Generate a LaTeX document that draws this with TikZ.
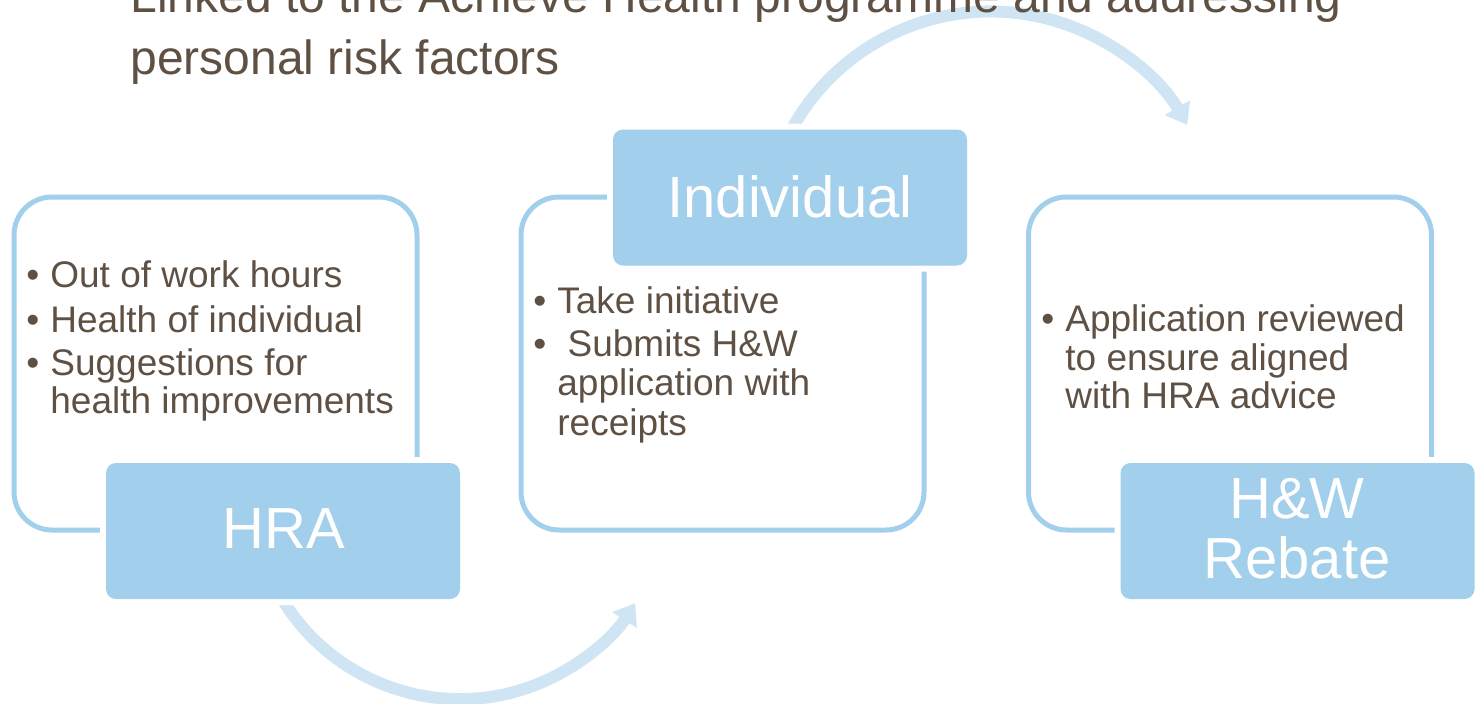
\documentclass[tikz,border=0pt]{standalone}
\usepackage{fontspec}
\setmainfont{Liberation Sans}
\usetikzlibrary{arrows.meta}
\definecolor{boxblue}{HTML}{A2CFEB}
\definecolor{flowblue}{HTML}{CFE5F3}
\definecolor{inkbrown}{HTML}{5F5044}
% bullet hung to the left of the text start
\newcommand{\bul}{\llap{\textbullet\hspace{5.5pt}}}
\begin{document}
\begin{tikzpicture}[x=0.5pt,y=-0.5pt,
  outlinebox/.style={draw=boxblue,line width=2.5pt,rounded corners=19pt,
    minimum width=201.5pt,minimum height=166.5pt,inner sep=0pt},
  tabbox/.style={fill=boxblue,rounded corners=5pt,minimum width=177pt,
    minimum height=68pt,inner sep=0pt,preaction={draw=white,line width=6pt}},
  headline/.style={inner sep=0pt,anchor=base west,text=inkbrown,
    font=\fontsize{24}{28}\selectfont},
  item/.style={inner sep=0pt,anchor=base west,text=inkbrown,
    font=\fontsize{18.5}{22}\selectfont},
  tablabel/.style={inner sep=0pt,anchor=base,text=white,
    font=\fontsize{29}{34}\selectfont},
  flow/.style={draw=flowblue,line width=6pt,
    -{Triangle[width=14pt,length=10pt]}}]
\useasboundingbox (0,0) rectangle (1480,703);

% outlined content boxes
\node[outlinebox] (frameA) at (215.5,363.5) {};
\node[outlinebox] (frameB) at (722.5,363.5) {};
\node[outlinebox] (frameC) at (1230,363.5) {};

% circular flow arrows
\coordinate (pivotA) at (460,491.1);
\coordinate (pivotB) at (990.7,238.5);
\draw[flow] (pivotA) ++(155:208) arc[start angle=155,end angle=32.6,radius=208];
\draw[flow] (pivotB) ++(200:227) arc[start angle=200,end angle=330,radius=227];

% filled tabs
\node[tabbox] (tabA) at (283,531) {};
\node[tabbox] (tabB) at (790,197.5) {};
\node[tabbox] (tabC) at (1297.5,531) {};
\node[tablabel] (labA) at (284,548) {HRA};
\node[tablabel] (labB) at (790,217) {Individual};
\node[tablabel] (labC1) at (1297,518) {H\&W};
\node[tablabel] (labC2) at (1297,578) {Rebate};

% heading
\node[headline] (head1) at (130,12) {Linked to the Achieve Health programme and addressing};
\node[headline] (head2) at (130,74) {personal risk factors};

% box texts
\node[item] (a1) at (50,287) {\bul Out of work hours};
\node[item] (a2) at (50,332) {\bul Health of individual};
\node[item] (a3) at (50,375) {\bul Suggestions for};
\node[item] (a4) at (50,413) {health improvements};

\node[item] (b1) at (557,313) {\bul Take initiative};
\node[item] (b2) at (557,356) {\bul\ Submits H\&W};
\node[item] (b3) at (557,395) {application with};
\node[item] (b4) at (557,435) {receipts};

\node[item] (c1) at (1065,331) {\bul Application reviewed};
\node[item] (c2) at (1065,370) {to ensure aligned};
\node[item] (c3) at (1065,408) {with HRA advice};
\end{tikzpicture}
\end{document}
